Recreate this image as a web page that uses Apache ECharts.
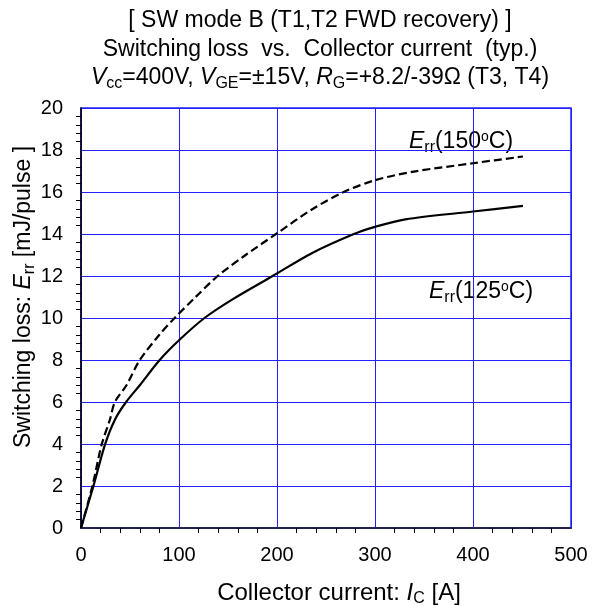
<!DOCTYPE html>
<html>
<head>
<meta charset="utf-8">
<script src="https://cdn.jsdelivr.net/npm/echarts@6/dist/echarts.min.js"></script>
<style>
  html, body { margin: 0; padding: 0; background: #fff; }
  #chart { width: 595px; height: 606px; }
</style>
</head>
<body>
<div id="chart"></div>
<script>
// Err at 125 C (solid) and 150 C (dashed)
const current125 = [0, 12.5, 24.4, 34.6, 46, 60, 80.3, 100, 126, 155, 195.5, 236, 278.5, 300, 331, 400, 451]
const err125 = [0, 1.97, 3.96, 5.16, 6.0, 6.8, 8.0, 8.94, 10.0, 10.9, 12.0, 13.1, 14.0, 14.34, 14.7, 15.07, 15.34]
const current150 = [0, 11.5, 21, 29.5, 34.6, 46.4, 60, 80, 95.5, 117, 139.5, 168, 199, 236, 268, 300, 338, 400, 451]
const err150 = [0, 1.97, 3.96, 5.16, 6.0, 6.8, 8.0, 9.2, 10.0, 11.0, 12.0, 13.0, 14.0, 15.18, 16.0, 16.56, 16.96, 17.37, 17.69]

const FONT = 'Liberation Sans, Arial, sans-serif'
const pairs = (xs, ys) => xs.map((x, i) => [x, ys[i]])

function richSet(size) {
  return {
    n: { fontSize: size, fontFamily: FONT, color: '#000' },
    i: { fontSize: size, fontFamily: FONT, color: '#000', fontStyle: 'italic' },
    s: { fontSize: Math.round(size * 0.68), fontFamily: FONT, color: '#000', padding: [Math.round(size * 0.5), 0, 0, 0] },
    sup: { fontSize: Math.round(size * 0.62), fontFamily: FONT, color: '#000', padding: [0, 0, Math.round(size * 0.45), 0] }
  }
}

function txt(x, y, text, size, extra) {
  return Object.assign({
    type: 'text', x: x, y: y,
    style: { text: text, rich: richSet(size), font: size + 'px ' + FONT, fill: '#000', align: 'center', verticalAlign: 'middle' }
  }, extra || {})
}

let myChart = echarts.init(document.getElementById('chart'))
let option = {
  animation: false,
  backgroundColor: '#fff',
  grid: { left: 81, right: 24, top: 108, bottom: 78, show: true, borderColor: '#2020ff', borderWidth: 1.5 },
  xAxis: [{
    type: 'value', min: 0, max: 500, interval: 100,
    axisLine: { show: true, onZero: false, lineStyle: { color: '#000', width: 1.5 } },
    axisTick: { show: false },
    minorTick: { show: true, splitNumber: 5, length: 5, lineStyle: { color: '#000', width: 1 } },
    axisLabel: { fontSize: 20, fontFamily: FONT, color: '#000', margin: 17 },
    splitLine: { show: true, lineStyle: { color: '#2020ff', width: 1 } }
  }, {
    type: 'value', min: 0, max: 500, position: 'top',
    axisLine: { show: true, lineStyle: { color: '#2a2a5a', width: 1.5 } },
    axisTick: { show: false }, axisLabel: { show: false }, splitLine: { show: false }
  }],
  yAxis: {
    type: 'value', min: 0, max: 20, interval: 2,
    axisLine: { show: true, onZero: false, lineStyle: { color: '#000', width: 1.5 } },
    axisTick: { show: false },
    minorTick: { show: true, splitNumber: 5, length: 5, lineStyle: { color: '#000', width: 1 } },
    axisLabel: { fontSize: 20, fontFamily: FONT, color: '#000', margin: 18 },
    splitLine: { show: true, lineStyle: { color: '#2222ff', width: 1 } }
  },
  series: [{
    type: 'line', data: pairs(current125, err125), smooth: 0.3, symbol: 'none',
    lineStyle: { color: '#000', width: 2.2, type: 'solid' }
  }, {
    type: 'line', data: pairs(current150, err150), smooth: 0.3, symbol: 'none',
    lineStyle: { color: '#000', width: 2.2, type: [8, 4] }
  }],
  graphic: [
    txt(320, 21, '{n|[ SW mode B (T1,T2 FWD recovery) ]}', 23),
    txt(320, 50, '{n|Switching loss  vs.  Collector current  (typ.)}', 23),
    txt(320, 78, '{i|V}{s|cc}{n|=400V, }{i|V}{s|GE}{n|=±15V, }{i|R}{s|G}{n|=+8.2/-39Ω (T3, T4)}', 23),
    txt(339, 593, '{n|Collector current: }{i|I}{s|C}{n| [A]}', 24),
    txt(24, 297, '{n|Switching loss: }{i|E}{s|rr}{n| [mJ/pulse ]}', 23, { rotation: Math.PI / 2 }),
    txt(461, 142, '{i|E}{s|rr}{n|(150}{sup|o}{n|C)}', 23),
    txt(481, 292, '{i|E}{s|rr}{n|(125}{sup|o}{n|C)}', 23)
  ]
}
if (option && typeof option === 'object') {
  myChart.setOption(option)
}
</script>
</body>
</html>
